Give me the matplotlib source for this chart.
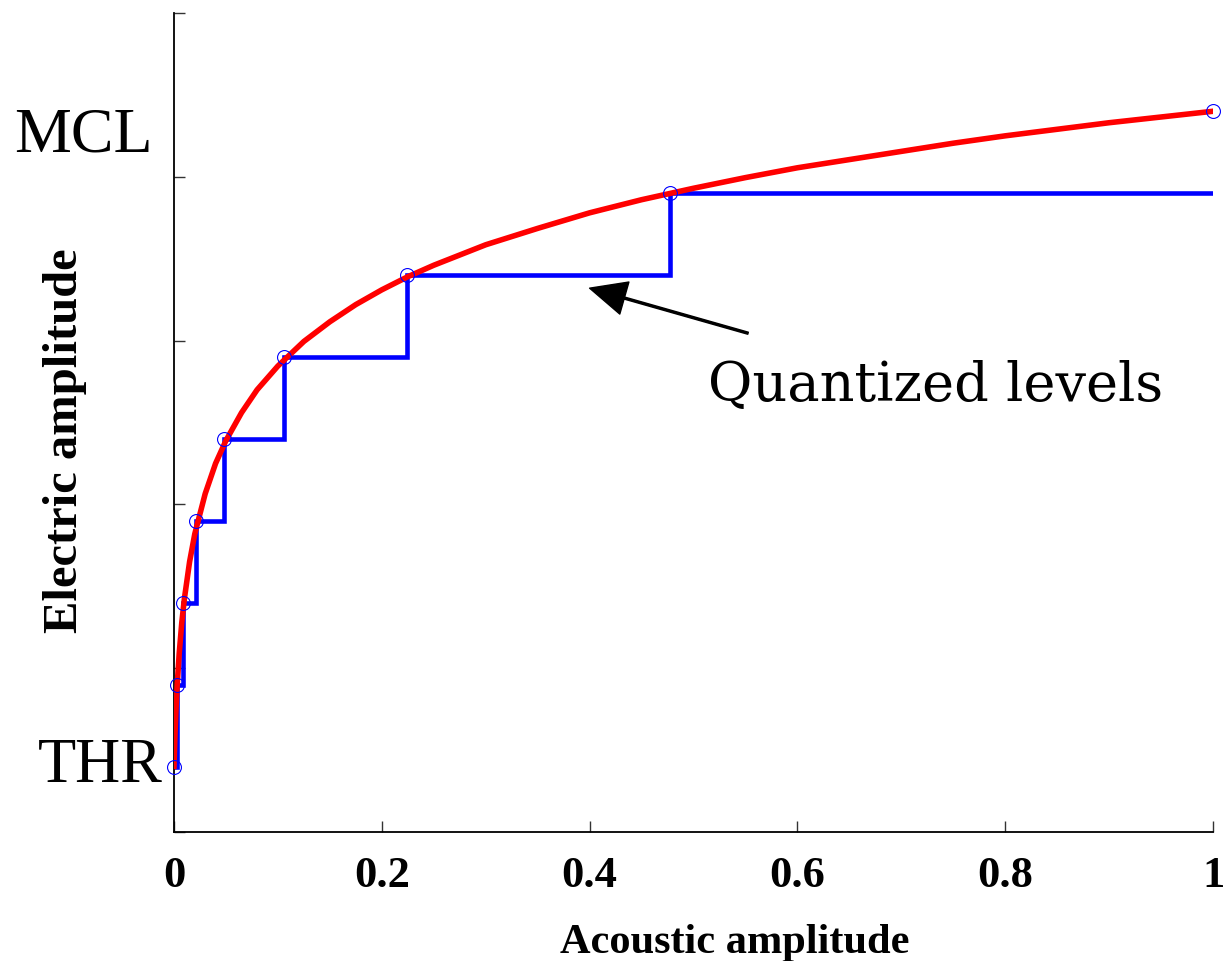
import matplotlib
matplotlib.use("Agg")
import matplotlib.pyplot as plt

# ---- data ----
# red mapping curve (acoustic -> electric amplitude)
curve_x = [0, 0.001, 0.002, 0.003, 0.005, 0.0075, 0.01, 0.015, 0.02, 0.03, 0.04,
           0.05, 0.065, 0.08, 0.1, 0.125, 0.15, 0.175, 0.2, 0.225, 0.25, 0.3,
           0.35, 0.4, 0.45, 0.5, 0.55, 0.6, 0.65, 0.7, 0.75, 0.8, 0.85, 0.9,
           0.95, 1.0]
curve_y = [0.080, 0.121, 0.152, 0.178, 0.218, 0.256, 0.285, 0.330, 0.364, 0.413,
           0.450, 0.478, 0.512, 0.540, 0.569, 0.599, 0.623, 0.644, 0.662, 0.678,
           0.692, 0.717, 0.737, 0.756, 0.772, 0.786, 0.799, 0.811, 0.821, 0.831,
           0.841, 0.850, 0.858, 0.866, 0.873, 0.880]

# quantization points (circles)
level_x = [0, 0.003, 0.009, 0.021, 0.048, 0.106, 0.224, 0.477, 1.0]
level_y = [0.08, 0.18, 0.28, 0.38, 0.48, 0.58, 0.68, 0.78, 0.88]

# staircase (quantized levels)
stair_x = [0, 0.003, 0.009, 0.021, 0.048, 0.106, 0.224, 0.477, 1.0]
stair_y = [0.08, 0.18, 0.28, 0.38, 0.48, 0.58, 0.68, 0.78, 0.78]

x_ticks = [0, 0.2, 0.4, 0.6, 0.8, 1.0]
x_tick_labels = ["0", "0.2", "0.4", "0.6", "0.8", "1"]
y_ticks = [0, 0.2, 0.4, 0.6, 0.8, 1.0]

SERIF = ["Liberation Serif", "DejaVu Serif"]

fig = plt.figure(figsize=(12.28, 9.61), dpi=100)
ax = fig.add_axes([0.1417, 0.1342, 0.8461, 0.8523])

ax.plot(stair_x, stair_y, drawstyle="steps-post", color="#0000ff", lw=3.3,
        solid_joinstyle="miter", zorder=2)
ax.plot(curve_x, curve_y, color="#ff0000", lw=4.0, zorder=3)
ax.plot(level_x, level_y, linestyle="none", marker="o", ms=10,
        markerfacecolor="none", markeredgecolor="#0000ff", mew=0.8, zorder=4,
        clip_on=False)

ax.set_xlim(0, 1)
ax.set_ylim(0, 1)
ax.set_xticks(x_ticks)
ax.set_xticklabels(x_tick_labels, fontfamily=SERIF, fontweight="bold", fontsize=32)
ax.set_yticks(y_ticks)
ax.set_yticklabels([])
ax.tick_params(axis="both", direction="in", length=8, width=1.0, color="#333333")
ax.tick_params(axis="x", pad=17)

for s in ["top", "right"]:
    ax.spines[s].set_visible(False)
for s in ["left", "bottom"]:
    ax.spines[s].set_linewidth(1.3)

ax.set_xlabel("Acoustic amplitude", fontfamily=SERIF, fontweight="bold",
              fontsize=30.5)
ax.xaxis.set_label_coords(0.54, -0.112)
ax.set_ylabel("Electric amplitude", fontfamily=SERIF, fontweight="bold",
              fontsize=35)
ax.yaxis.set_label_coords(-0.084, 0.478)

ax.text(-0.021, 0.849, "MCL", fontfamily=SERIF, fontsize=46, ha="right",
        va="center", clip_on=False)
ax.text(-0.011, 0.080, "THR", fontfamily=SERIF, fontsize=45, ha="right",
        va="center", clip_on=False)

ax.annotate("", xy=(0.400, 0.664), xytext=(0.5525, 0.609),
            arrowprops=dict(facecolor="black", edgecolor="black", width=1.5,
                            headwidth=24, headlength=26, shrink=0))
ax.text(0.514, 0.545, "Quantized levels", fontfamily=["DejaVu Serif"],
        fontsize=39, ha="left", va="center")

fig.savefig("out.png", dpi=100)
